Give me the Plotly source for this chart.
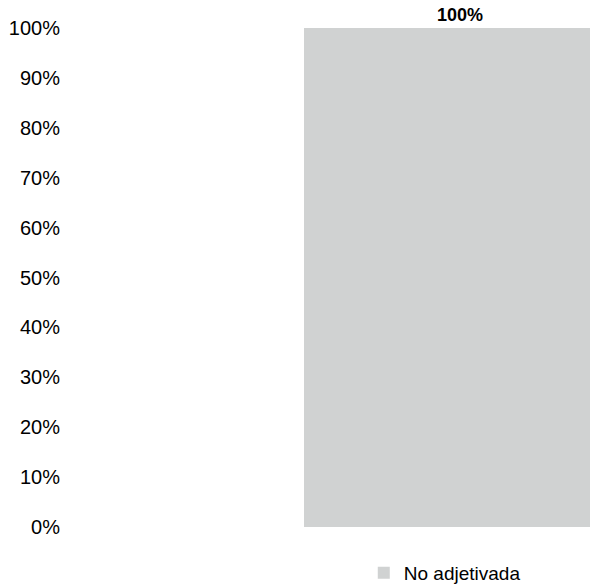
import plotly.graph_objects as go

categories = ["No adjetivada"]
series_name = "No adjetivada"
values = [1.0]
tick_vals = [0, 0.1, 0.2, 0.3, 0.4, 0.5, 0.6, 0.7, 0.8, 0.9, 1.0]
tick_text = ["0%", "10%", "20%", "30%", "40%", "50%", "60%", "70%", "80%", "90%", "100%"]

FONT = "Liberation Sans Narrow, Arial Narrow, Liberation Sans, Arial, sans-serif"

fig = go.Figure()
fig.add_trace(go.Bar(
    x=categories,
    y=values,
    name=series_name,
    width=0.6,
    marker=dict(color="#D0D2D2", line=dict(width=0)),
    text=[f"{v:.0%}" for v in values],
    texttemplate="<b>%{text}</b>",
    textposition="outside",
    textfont=dict(family=FONT, size=18, color="#000000"),
    cliponaxis=False,
    showlegend=True,
))

fig.update_layout(
    width=590,
    height=587,
    margin=dict(l=75, r=0, t=28, b=60, autoexpand=False),
    paper_bgcolor="white",
    plot_bgcolor="white",
    font=dict(family=FONT, size=20, color="#000000"),
    showlegend=True,
    legend=dict(
        orientation="h",
        x=0.718,
        xanchor="center",
        y=-0.092,
        yanchor="middle",
        font=dict(family=FONT, size=19, color="#000000"),
        itemsizing="constant",
    ),
    xaxis=dict(
        range=[-0.7404, 0.25],
        showticklabels=False,
        showgrid=False,
        zeroline=False,
        showline=False,
        ticks="",
    ),
    yaxis=dict(
        range=[0, 1],
        tickvals=tick_vals,
        ticktext=tick_text,
        showgrid=False,
        zeroline=False,
        showline=False,
        ticks="",
        ticklabelstandoff=14,
        tickfont=dict(family=FONT, size=20, color="#000000"),
    ),
    bargap=0,
)

fig.write_html(
    "out.html",
    config={"displayModeBar": False},
    post_script="document.body.style.margin='0';document.body.style.overflow='hidden';",
)
